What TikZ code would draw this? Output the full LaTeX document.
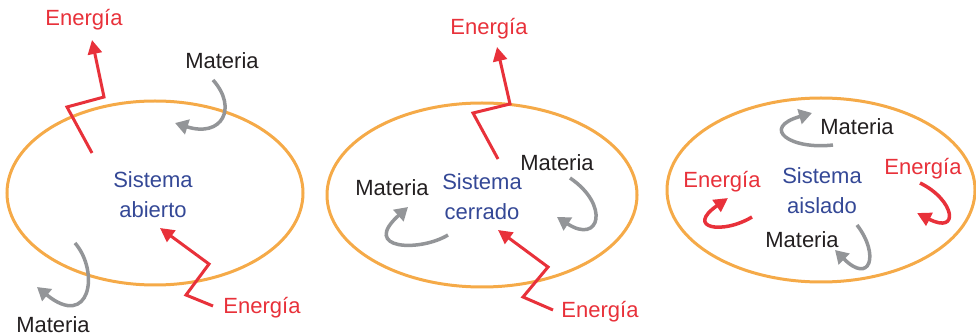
\documentclass[tikz,border=0pt]{standalone}
\usepackage{fontspec}
\setmainfont{Liberation Sans}
\usetikzlibrary{arrows.meta}
\definecolor{orng}{RGB}{245,170,72}
\definecolor{redE}{RGB}{232,49,58}
\definecolor{greyM}{RGB}{147,149,152}
\definecolor{blueS}{RGB}{52,72,150}
\definecolor{darkT}{RGB}{35,31,32}
\tikzset{
  sysell/.style={draw=orng,line width=3pt},
  enlab/.style={text=redE,font=\fontsize{22}{25}\selectfont,inner sep=0pt},
  matlab/.style={text=darkT,font=\fontsize{22}{25}\selectfont,inner sep=0pt},
  syslab/.style={text=blueS,font=\fontsize{22}{30}\selectfont,align=center,inner sep=0pt},
  enarrow/.style={draw=redE,line width=3pt,-{Triangle[length=14pt,width=14pt]}},
  matarrow/.style={draw=greyM,line width=3.5pt,-{Triangle[length=13pt,width=15pt]}},
}
\begin{document}
\begin{tikzpicture}[x=1pt,y=-1pt]
\useasboundingbox (0,0) rectangle (976,336);
% ellipses
\draw[sysell] (155,193) ellipse [x radius=148,y radius=92];
\draw[sysell] (482,195) ellipse [x radius=155,y radius=92];
\draw[sysell] (821,190) ellipse [x radius=154,y radius=92];
% panel 1
\node[syslab] (s1) at (153,195) {Sistema\\abierto};
\node[enlab] (e1t) at (84,20) {Energía};
\node[enlab] (e1b) at (262,308) {Energía};
\node[matlab] (m1t) at (222,61) {Materia};
\node[matlab] (m1b) at (53,325) {Materia};
\coordinate (e1ts) at (92,153);
\coordinate (e1tt) at (92,40);
\draw[enarrow] (e1ts) -- (67,107) -- (104,97) -- (e1tt);
\coordinate (e1bs) at (213,306);
\coordinate (e1bt) at (160,228);
\draw[enarrow] (e1bs) -- (186,295) -- (209,264) -- (e1bt);
\coordinate (m1ts) at (213,80);
\coordinate (m1tt) at (175,123);
\draw[matarrow] (m1ts) .. controls (238,108) and (222,138) .. (m1tt);
\coordinate (m1bs) at (75,243);
\coordinate (m1bt) at (37,287);
\draw[matarrow] (m1bs) .. controls (100,272) and (90,330) .. (m1bt);
% panel 2
\node[syslab] (s2) at (482,197) {Sistema\\cerrado};
\node[enlab] (e2t) at (489,29) {Energía};
\node[enlab] (e2b) at (600,312) {Energía};
\node[matlab] (m2r) at (557,163) {Materia};
\node[matlab] (m2l) at (392,188) {Materia};
\coordinate (e2ts) at (498,159);
\coordinate (e2tt) at (497,47);
\draw[enarrow] (e2ts) -- (473,113) -- (510,104) -- (e2tt);
\coordinate (e2bs) at (553,310);
\coordinate (e2bt) at (498,230);
\draw[enarrow] (e2bs) -- (523,297) -- (548,267) -- (e2bt);
\coordinate (m2rs) at (570,178);
\coordinate (m2rt) at (557,217);
\draw[matarrow] (m2rs) .. controls (610,205) and (600,245) .. (m2rt);
\coordinate (m2ls) at (448,235);
\coordinate (m2lt) at (408,207);
\draw[matarrow] (m2ls) .. controls (420,252) and (360,250) .. (m2lt);
% panel 3
\node[syslab] (s3) at (822,191) {Sistema\\aislado};
\node[matlab] (m3t) at (857,127) {Materia};
\node[matlab] (m3b) at (802,240) {Materia};
\node[enlab] (e3l) at (722,182) {Energía};
\node[enlab] (e3r) at (923,169) {Energía};
\coordinate (m3ts) at (833,145);
\coordinate (m3tt) at (812,113);
\draw[matarrow] (m3ts) .. controls (790,150) and (760,128) .. (m3tt);
\coordinate (m3bs) at (857,225);
\coordinate (m3bt) at (835,250);
\draw[matarrow] (m3bs) .. controls (880,255) and (870,285) .. (m3bt);
\coordinate (e3ls) at (752,217);
\coordinate (e3lt) at (728,198);
\draw[enarrow,line width=3.5pt] (e3ls) .. controls (722,235) and (685,228) .. (e3lt);
\coordinate (e3rs) at (920,183);
\coordinate (e3rt) at (917,213);
\draw[enarrow,line width=3.5pt] (e3rs) .. controls (955,200) and (960,235) .. (e3rt);
\end{tikzpicture}
\end{document}
